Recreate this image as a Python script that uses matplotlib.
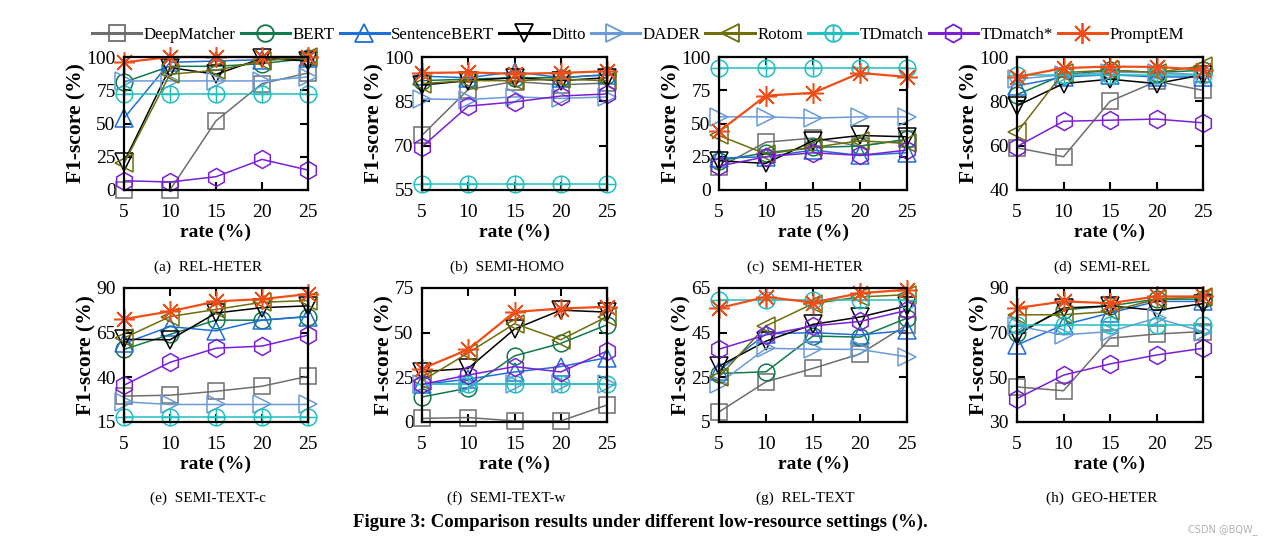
# Low-resource comparison figure: F1-score vs. training rate for 8 datasets

import numpy as np
import matplotlib
matplotlib.use('Agg')
import matplotlib.pyplot as plt
from matplotlib.path import Path

plt.rcParams['font.family'] = ['Liberation Serif', 'DejaVu Serif']

rates = [5, 10, 15, 20, 25]
methods = ['DeepMatcher', 'BERT', 'SentenceBERT', 'Ditto', 'DADER',
           'Rotom', 'TDmatch', 'TDmatch*', 'PromptEM']

# values, one dict per dataset
rel_heter = {
    'DeepMatcher': [0, 0, 52, 80, 88],
    'BERT': [81, 93, 93, 95, 99],
    'SentenceBERT': [54, 96, 97, 98, 99],
    'Ditto': [21, 92, 87, 99, 97],
    'DADER': [82, 82, 82, 82, 85],
    'Rotom': [20, 87, 90, 97, 100],
    'TDmatch': [72, 72, 72, 72, 72],
    'TDmatch*': [7, 6, 10, 23, 15],
    'PromptEM': [96, 100, 100, 100, 100],
}
semi_homo = {
    'DeepMatcher': [73.5, 89, 91.7, 90.6, 91.2],
    'BERT': [92, 92.5, 93, 93, 94],
    'SentenceBERT': [93.5, 93, 95, 93, 94],
    'Ditto': [90.5, 92, 93, 92, 93],
    'DADER': [85.8, 85.6, 86.5, 86, 86.5],
    'Rotom': [91, 92, 92, 92.5, 92],
    'TDmatch': [57, 57, 57, 57, 57],
    'TDmatch*': [69.6, 83.4, 84.8, 86.8, 87.5],
    'PromptEM': [94.6, 94.8, 94.3, 94.6, 95.2],
}
semi_heter = {
    'DeepMatcher': [17, 36, 39, 33, 38],
    'BERT': [22, 28, 32, 33, 38],
    'SentenceBERT': [24, 25, 30, 26, 28],
    'Ditto': [22, 20, 37, 41, 40],
    'DADER': [55, 55, 54, 55, 55],
    'Rotom': [41, 27, 32, 37, 35],
    'TDmatch': [92, 92, 92, 92, 92],
    'TDmatch*': [18, 25, 28, 26, 30],
    'PromptEM': [44, 71, 73, 88, 85],
}
semi_rel = {
    'DeepMatcher': [59, 55, 80, 89, 85],
    'BERT': [83, 92, 94, 93, 94],
    'SentenceBERT': [87, 91, 92, 91, 91],
    'Ditto': [78, 88, 90, 88, 92],
    'DADER': [90, 92, 93, 93, 92],
    'Rotom': [66, 93, 94, 93, 96],
    'TDmatch': [92, 92, 92, 92, 92],
    'TDmatch*': [59.6, 71, 71.5, 72, 70.3],
    'PromptEM': [91, 95, 95.7, 95.5, 94.3],
}
semi_text_c = {
    'DeepMatcher': [29.5, 30, 32.2, 35, 40.6],
    'BERT': [55.6, 64, 72, 72, 74],
    'SentenceBERT': [59, 68.4, 66, 72, 74],
    'Ditto': [61.3, 61, 76, 79, 80],
    'DADER': [26.3, 24.8, 24.8, 24.8, 24.8],
    'Rotom': [62, 74, 78, 82, 83],
    'TDmatch': [18, 18, 18, 18, 18],
    'TDmatch*': [35.6, 48.4, 56.3, 57.5, 63.6],
    'PromptEM': [72.6, 76.9, 82.5, 83.8, 86.6],
}
semi_text_w = {
    'DeepMatcher': [2, 2.5, 0.6, 0.6, 9.5],
    'BERT': [14, 19, 37, 44, 54.4],
    'SentenceBERT': [21, 24, 28, 31, 36],
    'Ditto': [28.2, 30, 52, 62.6, 61.5],
    'DADER': [21, 21, 21, 21, 21],
    'Rotom': [23, 38.7, 55, 46, 59],
    'TDmatch': [21, 21, 21, 21, 21],
    'TDmatch*': [21, 26.3, 31, 28, 39.7],
    'PromptEM': [29.8, 40.6, 61.6, 63.5, 64.5],
}
rel_text = {
    'DeepMatcher': [9.5, 23, 29, 35.5, 48.5],
    'BERT': [26.7, 27.5, 43.5, 43, 51.5],
    'SentenceBERT': [28, 44.5, 45, 44, 46],
    'Ditto': [30, 41.2, 48.7, 52, 57],
    'DADER': [22.2, 38, 37.6, 37.5, 34.2],
    'Rotom': [25.2, 48, 58, 61, 62],
    'TDmatch': [59.6, 59.6, 59.6, 59.6, 59.6],
    'TDmatch*': [37.6, 44, 48, 50, 55],
    'PromptEM': [56, 61, 58.5, 62.7, 64.2],
}
geo_heter = {
    'DeepMatcher': [45.7, 44, 67.5, 69.4, 70.5],
    'BERT': [70, 80.2, 82, 85, 85],
    'SentenceBERT': [64.5, 73.5, 78.8, 84, 84],
    'Ditto': [69, 81, 82, 80, 83],
    'DADER': [73, 69, 70.5, 76.5, 70.5],
    'Rotom': [78, 78, 79.5, 85, 86],
    'TDmatch': [73.5, 73.5, 73.5, 73.5, 73.5],
    'TDmatch*': [40.5, 51, 56, 60, 63],
    'PromptEM': [81, 84, 83.2, 86.2, 86.2],
}

datasets = [rel_heter, semi_homo, semi_heter, semi_rel,
            semi_text_c, semi_text_w, rel_text, geo_heter]
captions = ['(a)  REL-HETER', '(b)  SEMI-HOMO', '(c)  SEMI-HETER', '(d)  SEMI-REL',
            '(e)  SEMI-TEXT-c', '(f)  SEMI-TEXT-w', '(g)  REL-TEXT', '(h)  GEO-HETER']
y_ticks = [[0, 25, 50, 75, 100], [55, 70, 85, 100], [0, 25, 50, 75, 100], [40, 60, 80, 100],
           [15, 40, 65, 90], [0, 25, 50, 75], [5, 25, 45, 65], [30, 50, 70, 90]]

# circle with a plus inside, like gnuplot's pointtype for TDmatch
oplus = Path.make_compound_path(
    Path.unit_circle(),
    Path([[-1, 0], [1, 0]], [Path.MOVETO, Path.LINETO]),
    Path([[0, -1], [0, 1]], [Path.MOVETO, Path.LINETO]))

styles = {
    'DeepMatcher': dict(color='#6e6e6e', marker='s', ms=11),
    'BERT': dict(color='#127a4a', marker='o', ms=12),
    'SentenceBERT': dict(color='#1f6fd8', marker='^', ms=13),
    'Ditto': dict(color='black', marker='v', ms=13),
    'DADER': dict(color='#6a9bd8', marker='>', ms=13),
    'Rotom': dict(color='#6e6e0c', marker='<', ms=13),
    'TDmatch': dict(color='#22bfc0', marker=oplus, ms=12),
    'TDmatch*': dict(color='#7a1fd6', marker='h', ms=13),
    'PromptEM': dict(color='#f04e18', marker=(8, 2, 0), ms=15),
}

fig = plt.figure(figsize=(12.69, 5.38), dpi=100)

lefts = [124, 422, 719, 1017]
widths = [184, 185, 188, 186]
row_tops = [57, 288]
row_h = [133, 134]

for k, data in enumerate(datasets):
    r, c = divmod(k, 4)
    ax = fig.add_axes([lefts[c] / 1269, 1 - (row_tops[r] + row_h[r]) / 538,
                       widths[c] / 1269, row_h[r] / 538])
    for m in methods:
        st = styles[m]
        lw = 1.6 if m == 'PromptEM' else 1.1
        ax.plot(rates, data[m], color=st['color'], marker=st['marker'],
                markersize=st['ms'], mfc='none', mew=1.1, lw=lw,
                label=m, clip_on=False)
    ax.set_xlim(5, 25)
    yt = y_ticks[k]
    ax.set_ylim(yt[0], yt[-1])
    ax.set_xticks(rates)
    ax.set_yticks(yt)
    ax.tick_params(direction='in', length=6, width=1.5, top=True, right=True,
                   labelsize=14)
    ax.tick_params(axis='x', pad=10)
    ax.tick_params(axis='y', pad=6)
    for sp in ax.spines.values():
        sp.set_linewidth(1.6)
    ax.set_xlabel('rate (%)', fontsize=14, fontweight='bold', labelpad=2)
    ax.set_ylabel('F1-score (%)', fontsize=15.5, fontweight='bold', labelpad=0)
    cx = (lefts[c] + widths[c] / 2 - 8) / 1269
    cy = 1 - (267 if r == 0 else 498) / 538
    fig.text(cx, cy, captions[k], ha='center', va='center', fontsize=11)

handles, labels = ax.get_legend_handles_labels()
leg = fig.legend(handles, labels, loc='center', ncol=9, frameon=False,
                 bbox_to_anchor=(638 / 1269, 1 - 35 / 538), fontsize=12.2,
                 handlelength=2.9, handletextpad=0.15, columnspacing=0.3)
for ln in leg.get_lines():
    ln.set_linewidth(2.2)
    ln.set_markeredgewidth(1.3)

fig.text(640 / 1269, 1 - 522 / 538,
         'Figure 3: Comparison results under different low-resource settings (%).',
         ha='center', va='center', fontsize=13.5, fontweight='bold')
fig.text(1258 / 1269, 1 - 530 / 538, 'CSDN @BQW_', ha='right', va='center',
         fontsize=7, color='#b0b0b0', family='DejaVu Sans')

fig.savefig('out.png', dpi=100)
